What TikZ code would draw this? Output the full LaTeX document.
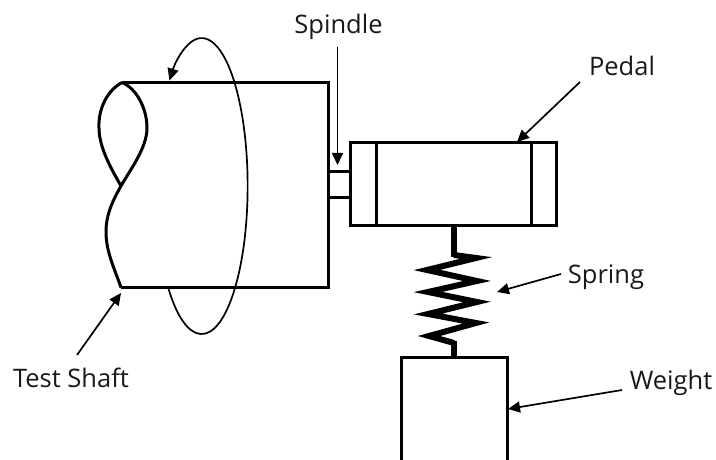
\documentclass[tikz,border=0pt]{standalone}
\usepackage{fontspec}
\setmainfont{Open Sans}
\usetikzlibrary{arrows.meta}
\tikzset{
  part/.style={line width=3pt,line join=miter},
  pointer/.style={line width=1.7pt,-{Triangle[length=12pt,width=11pt]}},
  callout/.style={font=\fontsize{25.5}{30}\selectfont,inner sep=0pt,text=black!90},
}
\begin{document}
\begin{tikzpicture}[x=1pt,y=1pt]
\useasboundingbox (0,0) rectangle (716,460);
\fill[white] (0,0) rectangle (716,460);
\coordinate (shafttop) at (122,377.5);
\coordinate (shaftbot) at (121,172.5);
\coordinate (shaftcross) at (121,274);
% test shaft
\draw[part] (shafttop) -- (328,377.5) -- (328,172.5) -- (shaftbot);
\draw[part] (shafttop) .. controls (108,370) and (98,352) .. (99,332) .. controls (99,312) and (112,290) .. (shaftcross);
\draw[part] (shafttop) .. controls (136,372) and (147,352) .. (147,332) .. controls (147,312) and (130,290) .. (shaftcross) .. controls (112,258) and (106,245) .. (106,228) .. controls (106,208) and (115,190) .. (shaftbot);
\draw[pointer] (168,173) arc[start angle=-137,end angle=134.5,x radius=46pt,y radius=148pt];
% spindle and pedal
\draw[part] (328,288) -- (350,288);
\draw[part] (328,262) -- (350,262);
\draw[part] (350,234) rectangle (556,317);
\draw[part] (376,234) -- (376,317);
\draw[part] (531,234) -- (531,317);
% spring and weight
\draw[line width=6.5pt] (454,234) -- (454,203);
\draw[line width=6pt,miter limit=12] (454,205) -- (476,202) -- (427,190) -- (477,179) -- (428,168) -- (477,158) -- (428,146) -- (476,137) -- (429,124) -- (454,117);
\draw[line width=6.5pt] (454,119) -- (454,102);
\draw[part] (401,0) -- (401,102) -- (507,102) -- (507,0);
% labels
\node[callout] (spindle) at (338.5,433) {Spindle};
\node[callout] (pedal) at (622,394) {Pedal};
\node[callout] (spring) at (606,183) {Spring};
\node[callout] (weight) at (671,77) {Weight};
\node[callout] (testshaft) at (71,82) {Test Shaft};
\coordinate (spindletip) at (337.5,295);
\coordinate (pedaltip) at (517,318);
\coordinate (springtip) at (497,168);
\coordinate (weighttip) at (508,51);
\coordinate (testshafttip) at (121,167);
\draw[pointer] (337.5,413) -- (spindletip);
\draw[pointer] (580,378) -- (pedaltip);
\draw[pointer] (561,186) -- (springtip);
\draw[pointer] (622,70) -- (weighttip);
\draw[pointer] (77,105) -- (testshafttip);
\end{tikzpicture}
\end{document}
